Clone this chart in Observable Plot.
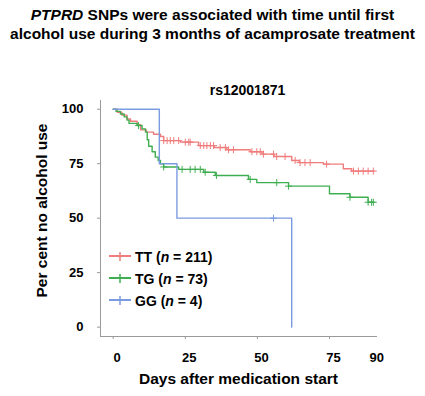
<!DOCTYPE html>
<html><head><meta charset="utf-8">
<script src="https://cdn.jsdelivr.net/npm/d3@7"></script>
<script src="https://cdn.jsdelivr.net/npm/@observablehq/plot@0.6"></script>
<style>
body{margin:0;background:#fff;font-family:"Liberation Sans",Arial,sans-serif;}
#wrap{position:relative;width:425px;height:396px;overflow:hidden;}
#title{position:absolute;left:0;top:5px;width:425px;text-align:center;font-weight:bold;font-size:15.5px;line-height:19px;color:#000;}
#chart{position:absolute;left:0;top:50px;}
#legend{position:absolute;left:108px;top:246px;font-weight:bold;font-size:14px;color:#000;}
.row{display:flex;align-items:center;height:22px;}
.row svg{margin-right:3px;}
</style></head>
<body>
<div id="wrap">
  <div id="title"><i>PTPRD</i> SNPs were associated with time until first<br>alcohol use during 3 months of acamprosate treatment</div>
  <div id="chart"></div>
  <div id="legend"></div>
</div>
<script>
// ---- data ----
const subtitle = "rs12001871";
const xTitle = "Days after medication start";
const yTitle = "Per cent no alcohol use";
const groups = ["TT", "TG", "GG"];
const groupN = [211, 73, 4];
const colors = ["#f07c7c", "#3fae50", "#7b9be0"];
const xTickMarks = [0, 25, 50, 75];
const xTickLabels = [0, 25, 50, 75, 90];
const yTicks = [0, 25, 50, 75, 100];

const ttDays = [0, 1.4, 3, 4.8, 6, 8.3, 9.5, 11.5, 14, 16.4, 17.5, 23.3, 29.6, 35, 39.4, 47.5, 51.6, 55.8, 61.9, 64.5, 72.9, 79.8, 82.7, 90.5];
const ttPct  = [100, 98.6, 97.3, 95.5, 94.5, 92.9, 90.5, 89.5, 88.5, 87.5, 85.6, 84.9, 83.3, 82.4, 81.4, 80.5, 79.4, 78.3, 76.5, 75.5, 74.8, 72.7, 71.6, 71.6];
const tgDays = [0, 1, 2.5, 3.8, 4.8, 5.5, 8.3, 10, 11.2, 11.8, 12.3, 13.5, 14.6, 15.6, 16.4, 17.5, 22.7, 31.4, 35.4, 46.9, 49.8, 60.8, 75, 82.1, 88.4, 90.5];
const tgPct  = [100, 99, 97.8, 96.5, 95, 93.5, 92.5, 91, 89.5, 86, 83, 80.5, 78, 76.5, 75, 73.5, 72.4, 71.1, 69.6, 67.8, 66.3, 64.7, 61.2, 59.6, 57.3, 57.3];
const ggDays = [0, 16, 22.1, 61.9];
const ggPct  = [100, 75, 50, 0];

const ttCensor = [17.5, 18.7, 19.8, 21, 22.7, 25, 26.2, 26.7, 30.2, 31.4, 32.5, 33.7, 34.8, 37.1, 38.9, 40, 41.7, 48.1, 49.8, 51, 52.1, 55.6, 56.7, 59.6, 63.1, 64.8, 66.5, 68.3, 74, 83.3, 85, 86.7, 88.4, 90.2];
const tgCensor = [8.8, 17.5, 23.9, 26.7, 28.4, 30.2, 31.9, 35.8, 47.5, 56.7, 60.8, 82.1, 88.4, 89.6, 90.2];
const ggCensor = [55.6];

// ---- build tables ----
const series = [[ttDays, ttPct, ttCensor], [tgDays, tgPct, tgCensor], [ggDays, ggPct, ggCensor]];
const lines = [], censors = [];
series.forEach(([days, pct, cens], i) => {
  days.forEach((d, j) => lines.push({g: groups[i], day: d, pct: pct[j]}));
  cens.forEach(c => {
    let v = pct[0];
    for (let j = 0; j < days.length; j++) if (days[j] <= c) v = pct[j];
    censors.push({g: groups[i], day: c, pct: v});
  });
});

const font = "'Liberation Sans', Arial, sans-serif";
const chart = Plot.plot({
  width: 425, height: 346,
  marginTop: 50, marginBottom: 60, marginLeft: 100, marginRight: 49,
  style: {fontFamily: font, background: "white", overflow: "visible"},
  x: {domain: [-4.4, 91.3]},
  y: {domain: [-4.3, 104]},
  color: {domain: groups, range: colors},
  marks: [
    Plot.frame({anchor: "left", stroke: "#9a9a9a"}),
    Plot.frame({anchor: "bottom", stroke: "#9a9a9a"}),
    Plot.axisY({ticks: yTicks, tickSize: 3, tickPadding: 14, stroke: "#9a9a9a", fill: "black",
      fontSize: 13, fontWeight: "bold", label: null}),
    Plot.axisX({ticks: xTickMarks, tickSize: 3, stroke: "#9a9a9a", tickFormat: () => "", label: null}),
    Plot.axisX({ticks: xTickLabels, tickSize: 0, tickPadding: 16, dx: 4, fill: "black",
      fontSize: 13, fontWeight: "bold", label: null}),
    Plot.line(lines, {x: "day", y: "pct", z: "g", stroke: "g", curve: "step-after", strokeWidth: 1.4}),
    Plot.dot(censors, {x: "day", y: "pct", stroke: "g", symbol: "plus", r: 2.4, strokeWidth: 1}),
    Plot.text([subtitle], {text: d => d, frameAnchor: "top", dy: -15, dx: 9, fontSize: 14, fontWeight: "bold", fill: "black"}),
    Plot.text([xTitle], {text: d => d, frameAnchor: "bottom", dy: 47, fontSize: 15.5, fontWeight: "bold", fill: "black"}),
    Plot.text([yTitle], {text: d => d, frameAnchor: "left", textAnchor: "middle", dx: -58, dy: -8, rotate: -90, fontSize: 15.5, fontWeight: "bold", fill: "black"})
  ]
});
document.getElementById("chart").appendChild(chart);

// ---- legend ----
const legend = d3.select("#legend");
groups.forEach((g, i) => {
  const row = legend.append("div").attr("class", "row");
  const s = row.append("svg").attr("width", 24).attr("height", 12);
  s.append("line").attr("x1", 1).attr("x2", 23).attr("y1", 5).attr("y2", 5).attr("stroke", colors[i]).attr("stroke-width", 2);
  s.append("line").attr("x1", 12).attr("x2", 12).attr("y1", 1).attr("y2", 10).attr("stroke", colors[i]).attr("stroke-width", 1.5);
  const t = row.append("span");
  t.append("span").text(g + " (");
  t.append("i").text("n");
  t.append("span").text(" = " + groupN[i] + ")");
});
</script>
</body></html>
